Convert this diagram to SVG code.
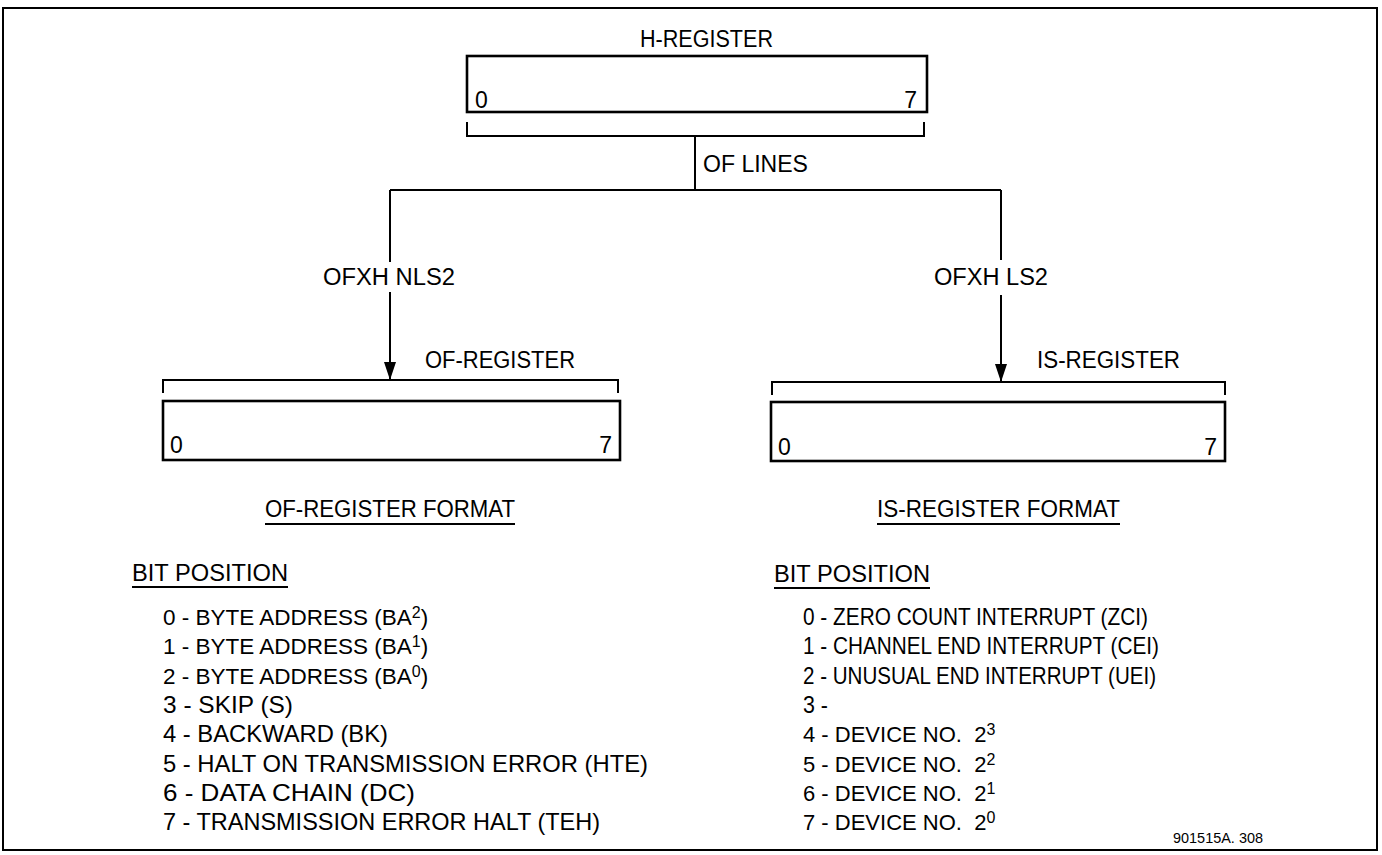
<svg xmlns="http://www.w3.org/2000/svg" width="1382" height="855" viewBox="0 0 1382 855">
<style>
text{font-family:"Liberation Sans",Arial,sans-serif;fill:#000}
.lbl{font-size:23px}
.itm{font-size:24px}
.itms{font-size:22.5px}
.itmd{font-size:22px}
.sup{font-size:16px}
.ref{font-size:15px}
.box{fill:#fff;stroke:#000;stroke-width:2.6}
.br{fill:none;stroke:#000;stroke-width:2}
.ln{fill:none;stroke:#000;stroke-width:2}
.ul{stroke:#000;stroke-width:2}
</style>
<defs>
<marker id="ah" viewBox="0 0 18 12" refX="18" refY="6" markerWidth="18" markerHeight="12" markerUnits="userSpaceOnUse" orient="auto">
<path d="M0,0 L18,6 L0,12 Z" fill="#000"/>
</marker>
</defs>
<rect x="3" y="8" width="1374" height="842" fill="#fff" stroke="#000" stroke-width="2"/>

<g id="h-register">
<text class="lbl" x="640" y="47" textLength="133" lengthAdjust="spacingAndGlyphs">H-REGISTER</text>
<rect class="box" x="467" y="56" width="460" height="56"/>
<text class="lbl" x="475" y="108">0</text>
<text class="lbl" x="917" y="108" text-anchor="end">7</text>
<path class="br" d="M467,122 V136 H924 V122"/>
</g>

<g id="of-register">
<text class="lbl" x="425" y="368" textLength="150" lengthAdjust="spacingAndGlyphs">OF-REGISTER</text>
<path class="br" d="M163,393 V380 H618 V393"/>
<rect class="box" x="163" y="401" width="457" height="59"/>
<text class="lbl" x="170" y="453">0</text>
<text class="lbl" x="612" y="453" text-anchor="end">7</text>
</g>

<g id="is-register">
<text class="lbl" x="1037" y="368" textLength="143" lengthAdjust="spacingAndGlyphs">IS-REGISTER</text>
<path class="br" d="M772,395 V382 H1225 V395"/>
<rect class="box" x="771" y="402" width="454" height="59"/>
<text class="lbl" x="778" y="455">0</text>
<text class="lbl" x="1217" y="455" text-anchor="end">7</text>
</g>

<g id="connectors">
<path class="ln" d="M695,136 V190"/>
<path class="ln" d="M390,190 H1001"/>
<path class="ln" d="M390,190 V262"/>
<path class="ln" d="M390,292 V380" marker-end="url(#ah)"/>
<path class="ln" d="M1001,190 V260"/>
<path class="ln" d="M1001,295 V382" marker-end="url(#ah)"/>
<text class="lbl" x="703" y="172" textLength="105" lengthAdjust="spacingAndGlyphs">OF LINES</text>
<text class="lbl" x="323" y="285" textLength="132" lengthAdjust="spacingAndGlyphs">OFXH NLS2</text>
<text class="lbl" x="934" y="285" textLength="114" lengthAdjust="spacingAndGlyphs">OFXH LS2</text>
</g>

<g id="of-format">
<text class="lbl" x="265" y="517" textLength="250" lengthAdjust="spacingAndGlyphs">OF-REGISTER FORMAT</text>
<line class="ul" x1="265" y1="524" x2="515" y2="524"/>
<text class="lbl" x="132" y="581" textLength="156" lengthAdjust="spacingAndGlyphs">BIT POSITION</text>
<line class="ul" x1="132" y1="587" x2="288" y2="587"/>
<text class="itms" x="163" y="625">0 - BYTE ADDRESS (BA<tspan class="sup" dy="-7">2</tspan><tspan dy="7">)</tspan></text>
<text class="itms" x="163" y="654">1 - BYTE ADDRESS (BA<tspan class="sup" dy="-7">1</tspan><tspan dy="7">)</tspan></text>
<text class="itms" x="163" y="684">2 - BYTE ADDRESS (BA<tspan class="sup" dy="-7">0</tspan><tspan dy="7">)</tspan></text>
<text class="itm" x="163" y="713" textLength="130" lengthAdjust="spacingAndGlyphs">3 - SKIP (S)</text>
<text class="itm" x="163" y="742" textLength="225" lengthAdjust="spacingAndGlyphs">4 - BACKWARD (BK)</text>
<text class="itm" x="163" y="772" textLength="485" lengthAdjust="spacingAndGlyphs">5 - HALT ON TRANSMISSION ERROR (HTE)</text>
<text class="itm" x="163" y="801" textLength="252" lengthAdjust="spacingAndGlyphs">6 - DATA CHAIN (DC)</text>
<text class="itm" x="163" y="830" textLength="437" lengthAdjust="spacingAndGlyphs">7 - TRANSMISSION ERROR HALT (TEH)</text>
</g>

<g id="is-format">
<text class="lbl" x="877" y="517" textLength="243" lengthAdjust="spacingAndGlyphs">IS-REGISTER FORMAT</text>
<line class="ul" x1="877" y1="524" x2="1120" y2="524"/>
<text class="lbl" x="774" y="582" textLength="156" lengthAdjust="spacingAndGlyphs">BIT POSITION</text>
<line class="ul" x1="774" y1="588" x2="930" y2="588"/>
<text class="itm" x="803" y="625" textLength="345" lengthAdjust="spacingAndGlyphs">0 - ZERO COUNT INTERRUPT (ZCI)</text>
<text class="itm" x="803" y="654" textLength="356" lengthAdjust="spacingAndGlyphs">1 - CHANNEL END INTERRUPT (CEI)</text>
<text class="itm" x="803" y="684" textLength="353" lengthAdjust="spacingAndGlyphs">2 - UNUSUAL END INTERRUPT (UEI)</text>
<text class="itm" x="803" y="713" textLength="25" lengthAdjust="spacingAndGlyphs">3 -</text>
<text class="itmd" x="803" y="742" xml:space="preserve">4 - DEVICE NO.  2<tspan class="sup" dy="-7">3</tspan></text>
<text class="itmd" x="803" y="772" xml:space="preserve">5 - DEVICE NO.  2<tspan class="sup" dy="-7">2</tspan></text>
<text class="itmd" x="803" y="801" xml:space="preserve">6 - DEVICE NO.  2<tspan class="sup" dy="-7">1</tspan></text>
<text class="itmd" x="803" y="830" xml:space="preserve">7 - DEVICE NO.  2<tspan class="sup" dy="-7">0</tspan></text>
<text class="ref" x="1173" y="843" textLength="90" lengthAdjust="spacingAndGlyphs">901515A. 308</text>
</g>
</svg>
